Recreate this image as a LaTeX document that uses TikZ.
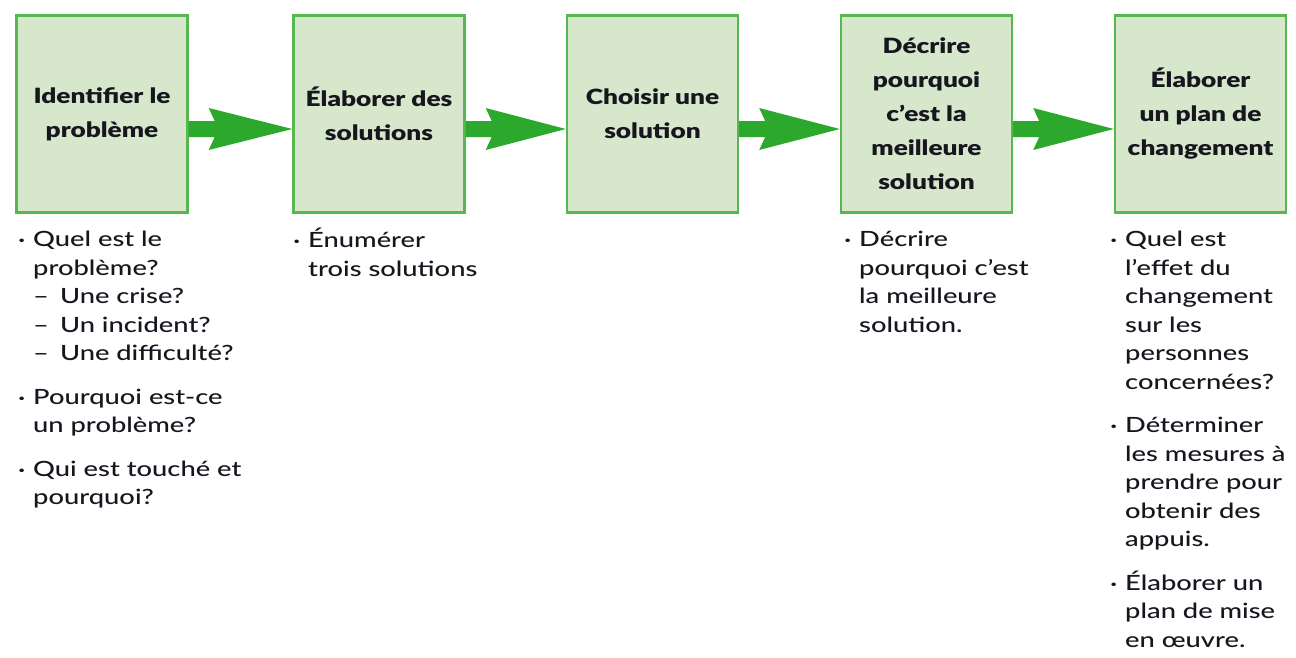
\documentclass[tikz,border=0pt]{standalone}
\usepackage{fontspec}
\setmainfont{Lato Medium}[FakeStretch=1.3, BoldFont={Lato Black}, BoldFeatures={FakeStretch=1.25}]
\usetikzlibrary{calc}
\definecolor{boxfill}{RGB}{214,231,203}
\definecolor{boxline}{RGB}{88,184,80}
\definecolor{arrowgreen}{RGB}{44,168,44}
\definecolor{ink}{RGB}{22,22,30}
\newcommand\notebullet{\llap{\raisebox{3pt}{\small\textbullet}\hspace{8pt}}}
\newcommand\notedash{–\hspace{11pt}}
\begin{document}
\begin{tikzpicture}[x=1pt,y=-1pt,
  stepbox/.style={draw=boxline, line width=2.4pt, fill=boxfill,
    minimum width=171pt, minimum height=197pt, inner sep=0pt,
    align=center, text=ink,
    font=\fontsize{21}{34}\selectfont\bfseries},
  notes/.style={anchor=north west, align=left, inner sep=0pt, text=ink,
    font=\fontsize{21}{28.5}\selectfont},
  flowarrow/.style={fill=arrowgreen}]
\useasboundingbox[fill=white] (0,0) rectangle (1296,657);

% process steps
\node[stepbox] (b1) at (102,114)   {Identifier le\\problème};
\node[stepbox] (b2) at (379,114)   {Élaborer des\\solutions};
\node[stepbox] (b3) at (652.5,114) {Choisir une\\solution};
\node[stepbox] (b4) at (926.5,114) {Décrire\\pourquoi\\c’est la\\meilleure\\solution};
\node[stepbox] (b5) at (1200.5,114){Élaborer\\un plan de\\changement};

% block arrows between the steps
\foreach \a/\b in {b1/b2,b2/b3,b3/b4,b4/b5}{
  \coordinate (s) at ($(\a.east)+(0,15)$);
  \coordinate (t) at ($(\b.west)+(0,15)$);
  \fill[flowarrow] ($(s)+(0,-8)$) -- ($(s)+(26,-8)$) -- ($(s)+(20,-21)$)
    -- (t) -- ($(s)+(20,21)$) -- ($(s)+(26,8)$) -- ($(s)+(0,8)$) -- cycle;
}

% notes under the steps
\node[notes] (n1) at (33,231) {\notebullet Quel est le\\
  problème?\\
  \notedash Une crise?\\
  \notedash Un incident?\\
  \notedash Une difficulté?\\[15pt]
  \notebullet Pourquoi est-ce\\
  un problème?\\[15pt]
  \notebullet Qui est touché et\\
  pourquoi?};
\node[notes] (n2) at (308,228) {\notebullet Énumérer\\
  trois solutions};
\node[notes] (n4) at (859,231) {\notebullet Décrire\\
  pourquoi c’est\\
  la meilleure\\
  solution.};
\node[notes] (n5) at (1125,231) {\notebullet Quel est\\
  l’effet du\\
  changement\\
  sur les\\
  personnes\\
  concernées?\\[15pt]
  \notebullet Déterminer\\
  les mesures à\\
  prendre pour\\
  obtenir des\\
  appuis.\\[15pt]
  \notebullet Élaborer un\\
  plan de mise\\
  en œuvre.};
\end{tikzpicture}
\end{document}
